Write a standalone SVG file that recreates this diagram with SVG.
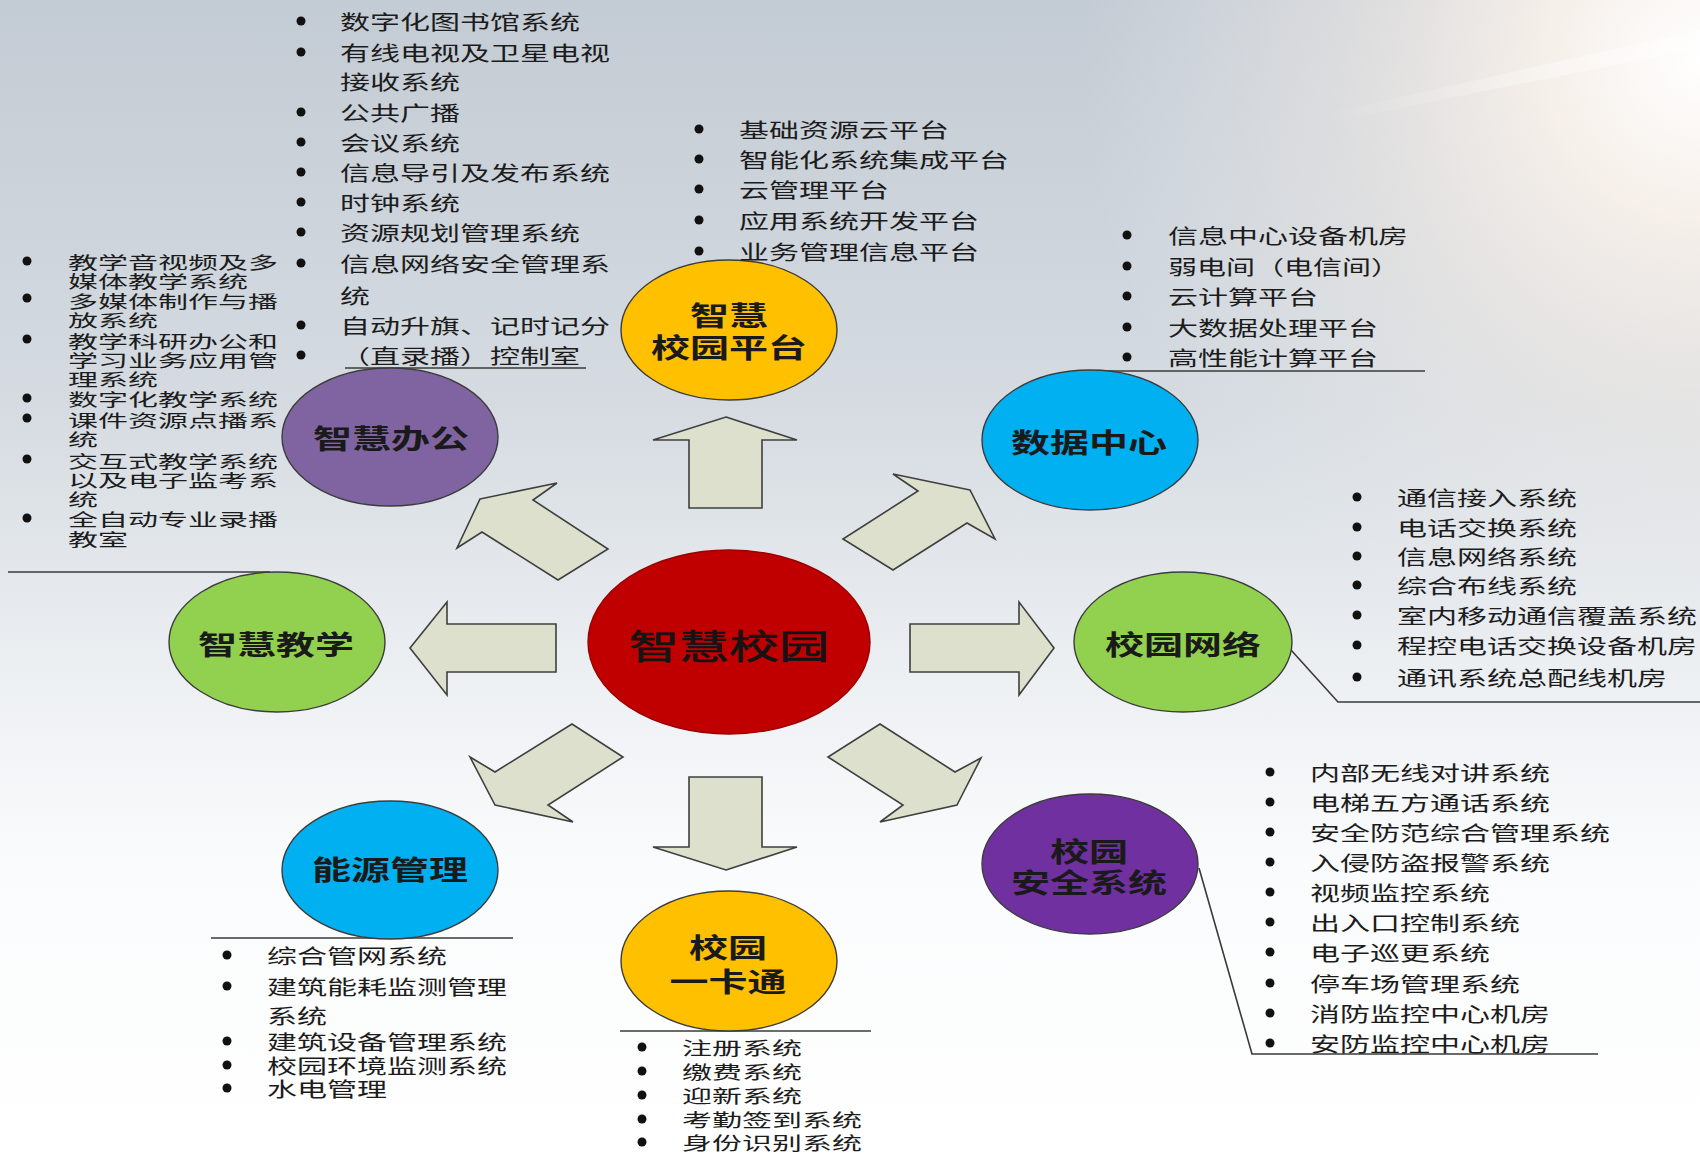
<svg xmlns="http://www.w3.org/2000/svg" width="1700" height="1155" viewBox="0 0 1700 1155">
  <defs>
    <linearGradient id="bg" x1="0" y1="0" x2="0" y2="1">
      <stop offset="0" stop-color="#c3cbd4"/>
      <stop offset="0.35" stop-color="#d5dbe1"/>
      <stop offset="0.6" stop-color="#eef1f4"/>
      <stop offset="0.75" stop-color="#fafbfc"/>
      <stop offset="1" stop-color="#ffffff"/>
    </linearGradient>
    <radialGradient id="glare" cx="1700" cy="60" r="620" gradientUnits="userSpaceOnUse">
      <stop offset="0" stop-color="#ffffff" stop-opacity="1"/>
      <stop offset="0.25" stop-color="#fbf3ec" stop-opacity="0.9"/>
      <stop offset="0.6" stop-color="#f3ece6" stop-opacity="0.45"/>
      <stop offset="1" stop-color="#eef0f3" stop-opacity="0"/>
    </radialGradient>
    <linearGradient id="streak" x1="0" y1="0" x2="1" y2="0">
      <stop offset="0" stop-color="#ffffff" stop-opacity="0"/>
      <stop offset="1" stop-color="#ffffff" stop-opacity="0.85"/>
    </linearGradient>
  </defs>
  <style>
    .lst { font-family: "Noto Sans CJK SC", "Liberation Sans", sans-serif; font-size: 20px; fill: #1c1c1c; }
    .lst.sm { font-size: 18.5px; }
    .lst.xs { font-size: 17.5px; }
    .dot { fill: #111111; }
    .lbl { font-family: "Noto Sans CJK SC", "Liberation Sans", sans-serif; font-size: 27px; font-weight: bold; fill: #1a1a1a; text-anchor: middle; }
    .hub { font-family: "Noto Sans CJK SC", "Liberation Serif", serif; font-size: 34px; fill: #141414; stroke: #141414; stroke-width: 0.6; text-anchor: middle; }
    .node { stroke: #3c3c3c; stroke-width: 1.4; }
    .arrow { fill: #dde0cd; stroke: #3f3f3f; stroke-width: 1.6; stroke-linejoin: miter; }
    .lead { fill: none; stroke: #3a3a3a; stroke-width: 1.6; }
  </style>

  <!-- backdrop -->
  <rect x="0" y="0" width="1700" height="1155" fill="url(#bg)"/>
  <rect x="0" y="0" width="1700" height="1155" fill="url(#glare)"/>
  <polygon points="1320,115 1700,30 1700,48 1330,122" fill="url(#streak)" opacity="0.6"/>

  <!-- connectors: block arrows from the hub and leader lines to the lists -->
  <g id="connectors">
    <polygon class="arrow" points="726,417 797,440 762,440 762,508 689,508 689,440 653,440"/>
    <polygon class="arrow" points="726,870 797,847 762,847 762,777 689,777 689,847 653,847"/>
    <polygon class="arrow" points="410,648 447,602 447,624 556,624 556,672 447,672 447,695"/>
    <polygon class="arrow" points="1054,648 1019,602 1019,624 910,624 910,672 1019,672 1019,695"/>
    <polygon class="arrow" points="480,499 557,483 533,500 608,549 558,580 482,532 457,548"/>
    <polygon class="arrow" points="970,490 893,474 918,491 843,539 893,570 967,523 995,539"/>
    <polygon class="arrow" points="495,805 470,757 495,772 572,724 623,757 548,805 573,822"/>
    <polygon class="arrow" points="957,805 981,758 955,772 880,724 828,757 903,805 880,822"/>

    <line class="lead" x1="345" y1="368" x2="586" y2="368"/>
    <line class="lead" x1="8" y1="572" x2="270" y2="572"/>
    <line class="lead" x1="1095" y1="371" x2="1425" y2="371"/>
    <polyline class="lead" points="1291,650 1338,702 1700,702"/>
    <polyline class="lead" points="1199,868 1252,1054 1598,1054"/>
    <line class="lead" x1="211" y1="938" x2="513" y2="938"/>
    <line class="lead" x1="620" y1="1031" x2="871" y2="1031"/>
  </g>

  <!-- hub -->
  <g id="hub">
    <ellipse cx="729" cy="642" rx="141" ry="92" fill="#c00000" stroke="#9a0000" stroke-width="1.4"/>
    <text class="hub" x="729" y="644" dominant-baseline="central" textLength="200" lengthAdjust="spacingAndGlyphs">智慧校园</text>
  </g>

  <!-- 智慧校园平台 -->
  <g id="platform">
    <ellipse class="node" cx="729" cy="330" rx="108" ry="70" fill="#ffc000"/>
    <text class="lbl" x="729" y="314" dominant-baseline="central" textLength="78" lengthAdjust="spacingAndGlyphs">智慧</text>
    <text class="lbl" x="729" y="346" dominant-baseline="central" textLength="156" lengthAdjust="spacingAndGlyphs">校园平台</text>
    <g class="lst">
      <circle class="dot" cx="699" cy="129" r="4.5"/><text x="739" y="129" dominant-baseline="central" textLength="210" lengthAdjust="spacingAndGlyphs">基础资源云平台</text>
      <circle class="dot" cx="699" cy="159" r="4.5"/><text x="739" y="159" dominant-baseline="central" textLength="270" lengthAdjust="spacingAndGlyphs">智能化系统集成平台</text>
      <circle class="dot" cx="699" cy="189" r="4.5"/><text x="739" y="189" dominant-baseline="central" textLength="150" lengthAdjust="spacingAndGlyphs">云管理平台</text>
      <circle class="dot" cx="699" cy="220" r="4.5"/><text x="739" y="220" dominant-baseline="central" textLength="240" lengthAdjust="spacingAndGlyphs">应用系统开发平台</text>
      <circle class="dot" cx="699" cy="251" r="4.5"/><text x="739" y="251" dominant-baseline="central" textLength="240" lengthAdjust="spacingAndGlyphs">业务管理信息平台</text>
    </g>
  </g>

  <!-- 数据中心 -->
  <g id="datacenter">
    <ellipse class="node" cx="1090" cy="440" rx="108" ry="70" fill="#00b0f0"/>
    <text class="lbl" x="1089" y="441" dominant-baseline="central" textLength="156" lengthAdjust="spacingAndGlyphs">数据中心</text>
    <g class="lst">
      <circle class="dot" cx="1127" cy="235" r="4.5"/><text x="1168" y="235" dominant-baseline="central" textLength="240" lengthAdjust="spacingAndGlyphs">信息中心设备机房</text>
      <circle class="dot" cx="1127" cy="266" r="4.5"/><text x="1168" y="266" dominant-baseline="central" textLength="232" lengthAdjust="spacingAndGlyphs">弱电间（电信间）</text>
      <circle class="dot" cx="1127" cy="296" r="4.5"/><text x="1168" y="296" dominant-baseline="central" textLength="150" lengthAdjust="spacingAndGlyphs">云计算平台</text>
      <circle class="dot" cx="1127" cy="327" r="4.5"/><text x="1168" y="327" dominant-baseline="central" textLength="210" lengthAdjust="spacingAndGlyphs">大数据处理平台</text>
      <circle class="dot" cx="1127" cy="357" r="4.5"/><text x="1168" y="357" dominant-baseline="central" textLength="210" lengthAdjust="spacingAndGlyphs">高性能计算平台</text>
    </g>
  </g>

  <!-- 校园网络 -->
  <g id="network">
    <ellipse class="node" cx="1183" cy="642" rx="109" ry="70" fill="#92d050"/>
    <text class="lbl" x="1183" y="643" dominant-baseline="central" textLength="156" lengthAdjust="spacingAndGlyphs">校园网络</text>
    <g class="lst">
      <circle class="dot" cx="1357" cy="497" r="4.5"/><text x="1397" y="497" dominant-baseline="central" textLength="180" lengthAdjust="spacingAndGlyphs">通信接入系统</text>
      <circle class="dot" cx="1357" cy="527" r="4.5"/><text x="1397" y="527" dominant-baseline="central" textLength="180" lengthAdjust="spacingAndGlyphs">电话交换系统</text>
      <circle class="dot" cx="1357" cy="556" r="4.5"/><text x="1397" y="556" dominant-baseline="central" textLength="180" lengthAdjust="spacingAndGlyphs">信息网络系统</text>
      <circle class="dot" cx="1357" cy="585" r="4.5"/><text x="1397" y="585" dominant-baseline="central" textLength="180" lengthAdjust="spacingAndGlyphs">综合布线系统</text>
      <circle class="dot" cx="1357" cy="615" r="4.5"/><text x="1397" y="615" dominant-baseline="central" textLength="300" lengthAdjust="spacingAndGlyphs">室内移动通信覆盖系统</text>
      <circle class="dot" cx="1357" cy="645" r="4.5"/><text x="1397" y="645" dominant-baseline="central" textLength="300" lengthAdjust="spacingAndGlyphs">程控电话交换设备机房</text>
      <circle class="dot" cx="1357" cy="677" r="4.5"/><text x="1397" y="677" dominant-baseline="central" textLength="270" lengthAdjust="spacingAndGlyphs">通讯系统总配线机房</text>
    </g>
  </g>

  <!-- 校园安全系统 -->
  <g id="security">
    <ellipse class="node" cx="1090" cy="864" rx="108" ry="70" fill="#7030a0"/>
    <text class="lbl" x="1089" y="850" dominant-baseline="central" textLength="78" lengthAdjust="spacingAndGlyphs">校园</text>
    <text class="lbl" x="1089" y="881" dominant-baseline="central" textLength="156" lengthAdjust="spacingAndGlyphs">安全系统</text>
    <g class="lst">
      <circle class="dot" cx="1270" cy="772" r="4.5"/><text x="1310" y="772" dominant-baseline="central" textLength="240" lengthAdjust="spacingAndGlyphs">内部无线对讲系统</text>
      <circle class="dot" cx="1270" cy="802" r="4.5"/><text x="1310" y="802" dominant-baseline="central" textLength="240" lengthAdjust="spacingAndGlyphs">电梯五方通话系统</text>
      <circle class="dot" cx="1270" cy="832" r="4.5"/><text x="1310" y="832" dominant-baseline="central" textLength="300" lengthAdjust="spacingAndGlyphs">安全防范综合管理系统</text>
      <circle class="dot" cx="1270" cy="862" r="4.5"/><text x="1310" y="862" dominant-baseline="central" textLength="240" lengthAdjust="spacingAndGlyphs">入侵防盗报警系统</text>
      <circle class="dot" cx="1270" cy="892" r="4.5"/><text x="1310" y="892" dominant-baseline="central" textLength="180" lengthAdjust="spacingAndGlyphs">视频监控系统</text>
      <circle class="dot" cx="1270" cy="922" r="4.5"/><text x="1310" y="922" dominant-baseline="central" textLength="210" lengthAdjust="spacingAndGlyphs">出入口控制系统</text>
      <circle class="dot" cx="1270" cy="952" r="4.5"/><text x="1310" y="952" dominant-baseline="central" textLength="180" lengthAdjust="spacingAndGlyphs">电子巡更系统</text>
      <circle class="dot" cx="1270" cy="983" r="4.5"/><text x="1310" y="983" dominant-baseline="central" textLength="210" lengthAdjust="spacingAndGlyphs">停车场管理系统</text>
      <circle class="dot" cx="1270" cy="1013" r="4.5"/><text x="1310" y="1013" dominant-baseline="central" textLength="240" lengthAdjust="spacingAndGlyphs">消防监控中心机房</text>
      <circle class="dot" cx="1270" cy="1043" r="4.5"/><text x="1310" y="1043" dominant-baseline="central" textLength="240" lengthAdjust="spacingAndGlyphs">安防监控中心机房</text>
    </g>
  </g>

  <!-- 校园一卡通 -->
  <g id="campus-card">
    <ellipse class="node" cx="729" cy="961" rx="108" ry="70" fill="#ffc000"/>
    <text class="lbl" x="728" y="946" dominant-baseline="central" textLength="78" lengthAdjust="spacingAndGlyphs">校园</text>
    <text class="lbl" x="728" y="980" dominant-baseline="central" textLength="117" lengthAdjust="spacingAndGlyphs">一卡通</text>
    <g class="lst sm">
      <circle class="dot" cx="642" cy="1047" r="4.5"/><text x="682" y="1047" dominant-baseline="central" textLength="120" lengthAdjust="spacingAndGlyphs">注册系统</text>
      <circle class="dot" cx="642" cy="1071" r="4.5"/><text x="682" y="1071" dominant-baseline="central" textLength="120" lengthAdjust="spacingAndGlyphs">缴费系统</text>
      <circle class="dot" cx="642" cy="1095" r="4.5"/><text x="682" y="1095" dominant-baseline="central" textLength="120" lengthAdjust="spacingAndGlyphs">迎新系统</text>
      <circle class="dot" cx="642" cy="1119" r="4.5"/><text x="682" y="1119" dominant-baseline="central" textLength="180" lengthAdjust="spacingAndGlyphs">考勤签到系统</text>
      <circle class="dot" cx="642" cy="1142" r="4.5"/><text x="682" y="1142" dominant-baseline="central" textLength="180" lengthAdjust="spacingAndGlyphs">身份识别系统</text>
    </g>
  </g>

  <!-- 能源管理 -->
  <g id="energy">
    <ellipse class="node" cx="390" cy="870" rx="108" ry="69" fill="#00b0f0"/>
    <text class="lbl" x="390" y="868" dominant-baseline="central" textLength="156" lengthAdjust="spacingAndGlyphs">能源管理</text>
    <g class="lst">
      <circle class="dot" cx="227" cy="955" r="4.5"/><text x="267" y="955" dominant-baseline="central" textLength="180" lengthAdjust="spacingAndGlyphs">综合管网系统</text>
      <circle class="dot" cx="227" cy="986" r="4.5"/><text x="267" y="986" dominant-baseline="central" textLength="240" lengthAdjust="spacingAndGlyphs">建筑能耗监测管理</text>
      <text x="267" y="1015" dominant-baseline="central" textLength="60" lengthAdjust="spacingAndGlyphs">系统</text>
      <circle class="dot" cx="227" cy="1041" r="4.5"/><text x="267" y="1041" dominant-baseline="central" textLength="240" lengthAdjust="spacingAndGlyphs">建筑设备管理系统</text>
      <circle class="dot" cx="227" cy="1065" r="4.5"/><text x="267" y="1065" dominant-baseline="central" textLength="240" lengthAdjust="spacingAndGlyphs">校园环境监测系统</text>
      <circle class="dot" cx="227" cy="1088" r="4.5"/><text x="267" y="1088" dominant-baseline="central" textLength="120" lengthAdjust="spacingAndGlyphs">水电管理</text>
    </g>
  </g>

  <!-- 智慧教学 -->
  <g id="teaching">
    <ellipse class="node" cx="277" cy="642" rx="108" ry="70" fill="#92d050"/>
    <text class="lbl" x="276" y="643" dominant-baseline="central" textLength="156" lengthAdjust="spacingAndGlyphs">智慧教学</text>
    <g class="lst xs">
      <circle class="dot" cx="27" cy="261" r="4.5"/><text x="68" y="261" dominant-baseline="central" textLength="210" lengthAdjust="spacingAndGlyphs">教学音视频及多</text>
      <text x="68" y="280" dominant-baseline="central" textLength="180" lengthAdjust="spacingAndGlyphs">媒体教学系统</text>
      <circle class="dot" cx="27" cy="298" r="4.5"/><text x="68" y="300" dominant-baseline="central" textLength="210" lengthAdjust="spacingAndGlyphs">多媒体制作与播</text>
      <text x="68" y="319" dominant-baseline="central" textLength="90" lengthAdjust="spacingAndGlyphs">放系统</text>
      <circle class="dot" cx="27" cy="339" r="4.5"/><text x="68" y="340" dominant-baseline="central" textLength="210" lengthAdjust="spacingAndGlyphs">教学科研办公和</text>
      <text x="68" y="359" dominant-baseline="central" textLength="210" lengthAdjust="spacingAndGlyphs">学习业务应用管</text>
      <text x="68" y="378" dominant-baseline="central" textLength="90" lengthAdjust="spacingAndGlyphs">理系统</text>
      <circle class="dot" cx="27" cy="398" r="4.5"/><text x="68" y="398" dominant-baseline="central" textLength="210" lengthAdjust="spacingAndGlyphs">数字化教学系统</text>
      <circle class="dot" cx="27" cy="418" r="4.5"/><text x="68" y="419" dominant-baseline="central" textLength="210" lengthAdjust="spacingAndGlyphs">课件资源点播系</text>
      <text x="68" y="438" dominant-baseline="central" textLength="30" lengthAdjust="spacingAndGlyphs">统</text>
      <circle class="dot" cx="27" cy="459" r="4.5"/><text x="68" y="460" dominant-baseline="central" textLength="210" lengthAdjust="spacingAndGlyphs">交互式教学系统</text>
      <text x="68" y="479" dominant-baseline="central" textLength="210" lengthAdjust="spacingAndGlyphs">以及电子监考系</text>
      <text x="68" y="498" dominant-baseline="central" textLength="30" lengthAdjust="spacingAndGlyphs">统</text>
      <circle class="dot" cx="27" cy="518" r="4.5"/><text x="68" y="518" dominant-baseline="central" textLength="210" lengthAdjust="spacingAndGlyphs">全自动专业录播</text>
      <text x="68" y="538" dominant-baseline="central" textLength="60" lengthAdjust="spacingAndGlyphs">教室</text>
    </g>
  </g>

  <!-- 智慧办公 -->
  <g id="office">
    <ellipse class="node" cx="390" cy="437" rx="108" ry="69" fill="#8064a2"/>
    <text class="lbl" x="391" y="437" dominant-baseline="central" textLength="156" lengthAdjust="spacingAndGlyphs">智慧办公</text>
    <g class="lst">
      <circle class="dot" cx="301" cy="21" r="4.5"/><text x="340" y="21" dominant-baseline="central" textLength="240" lengthAdjust="spacingAndGlyphs">数字化图书馆系统</text>
      <circle class="dot" cx="301" cy="52" r="4.5"/><text x="340" y="52" dominant-baseline="central" textLength="270" lengthAdjust="spacingAndGlyphs">有线电视及卫星电视</text>
      <text x="340" y="81" dominant-baseline="central" textLength="120" lengthAdjust="spacingAndGlyphs">接收系统</text>
      <circle class="dot" cx="301" cy="112" r="4.5"/><text x="340" y="112" dominant-baseline="central" textLength="120" lengthAdjust="spacingAndGlyphs">公共广播</text>
      <circle class="dot" cx="301" cy="142" r="4.5"/><text x="340" y="142" dominant-baseline="central" textLength="120" lengthAdjust="spacingAndGlyphs">会议系统</text>
      <circle class="dot" cx="301" cy="172" r="4.5"/><text x="340" y="172" dominant-baseline="central" textLength="270" lengthAdjust="spacingAndGlyphs">信息导引及发布系统</text>
      <circle class="dot" cx="301" cy="202" r="4.5"/><text x="340" y="202" dominant-baseline="central" textLength="120" lengthAdjust="spacingAndGlyphs">时钟系统</text>
      <circle class="dot" cx="301" cy="232" r="4.5"/><text x="340" y="232" dominant-baseline="central" textLength="240" lengthAdjust="spacingAndGlyphs">资源规划管理系统</text>
      <circle class="dot" cx="301" cy="263" r="4.5"/><text x="340" y="263" dominant-baseline="central" textLength="270" lengthAdjust="spacingAndGlyphs">信息网络安全管理系</text>
      <text x="340" y="295" dominant-baseline="central" textLength="30" lengthAdjust="spacingAndGlyphs">统</text>
      <circle class="dot" cx="301" cy="325" r="4.5"/><text x="340" y="325" dominant-baseline="central" textLength="270" lengthAdjust="spacingAndGlyphs">自动升旗、记时记分</text>
      <circle class="dot" cx="301" cy="355" r="4.5"/><text x="340" y="355" dominant-baseline="central" textLength="240" lengthAdjust="spacingAndGlyphs">（直录播）控制室</text>
    </g>
  </g>
</svg>
